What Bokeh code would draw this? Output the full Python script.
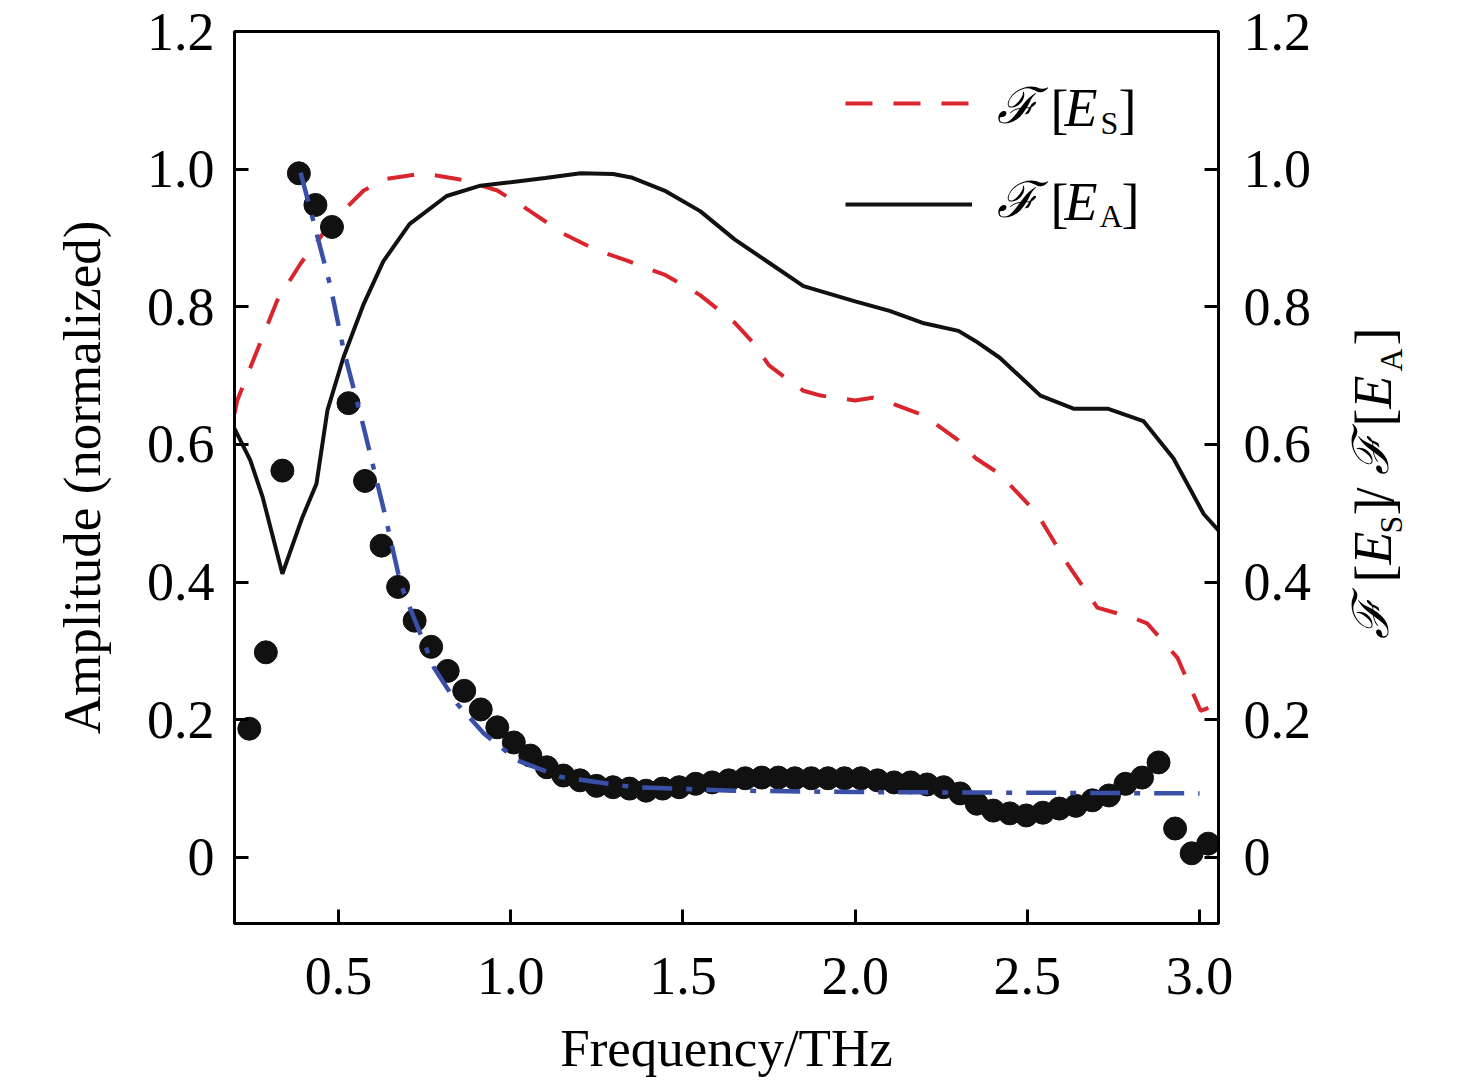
import math
from bokeh.plotting import figure
from bokeh.layouts import row
from bokeh.models import Range1d, LinearAxis, FixedTicker, Label, Legend, LegendItem
from bokeh.embed import file_html
from bokeh.resources import INLINE

# ---- data ----
es_freq = [0.198, 0.206, 0.264, 0.322, 0.390, 0.477, 0.573, 0.641, 0.748, 0.864, 0.961, 1.038,
           1.154, 1.251, 1.338, 1.45, 1.55, 1.65, 1.70, 1.75, 1.80, 1.85, 1.90, 2.00, 2.05, 2.10,
           2.20, 2.30, 2.35, 2.42, 2.529, 2.616, 2.703, 2.808, 2.848, 2.936, 3.003, 3.055]
es_amp = [0.645, 0.664, 0.737, 0.809, 0.863, 0.921, 0.969, 0.986, 0.994, 0.984, 0.969, 0.945,
          0.906, 0.882, 0.867, 0.846, 0.817, 0.777, 0.750, 0.715, 0.696, 0.678, 0.671, 0.664, 0.668, 0.661,
          0.642, 0.606, 0.580, 0.557, 0.499, 0.427, 0.363, 0.348, 0.340, 0.290, 0.213, 0.223]

ea_freq = [0.198, 0.244, 0.280, 0.337, 0.395, 0.436, 0.468, 0.514, 0.573, 0.630, 0.706, 0.814,
           0.912, 1.000, 1.100, 1.203, 1.297, 1.350, 1.450, 1.550, 1.650, 1.750, 1.850, 2.000,
           2.100, 2.200, 2.300, 2.350, 2.420, 2.538, 2.634, 2.733, 2.837, 2.924, 3.012, 3.055]
ea_amp = [0.623, 0.577, 0.523, 0.412, 0.494, 0.543, 0.650, 0.726, 0.804, 0.866, 0.920, 0.961,
          0.976, 0.981, 0.987, 0.994, 0.993, 0.988, 0.968, 0.939, 0.898, 0.864, 0.830, 0.808,
          0.794, 0.776, 0.765, 0.750, 0.726, 0.671, 0.652, 0.652, 0.634, 0.580, 0.499, 0.475]

fit_freq = [0.390, 0.477, 0.515, 0.573, 0.632, 0.680, 0.699, 0.777, 0.845, 0.922, 1.019, 1.145,
            1.357, 1.648, 2.000, 2.500, 3.000]
fit_amp = [0.995, 0.829, 0.737, 0.625, 0.504, 0.398, 0.373, 0.276, 0.223, 0.180, 0.141, 0.117,
           0.102, 0.097, 0.095, 0.094, 0.093]

ratio_freq = [0.241, 0.289, 0.337, 0.385, 0.433, 0.481, 0.529, 0.577, 0.625, 0.673, 0.721, 0.769,
              0.817, 0.865, 0.913, 0.961, 1.009, 1.057, 1.105, 1.153, 1.201, 1.249, 1.297, 1.345,
              1.393, 1.441, 1.489, 1.537, 1.585, 1.633, 1.681, 1.729, 1.777, 1.825, 1.873, 1.921,
              1.969, 2.017, 2.065, 2.113, 2.161, 2.209, 2.257, 2.305, 2.353, 2.401, 2.449, 2.497,
              2.545, 2.593, 2.641, 2.689, 2.737, 2.785, 2.833, 2.881, 2.929, 2.977, 3.025]
ratio_val = [0.187, 0.298, 0.562, 0.994, 0.948, 0.916, 0.660, 0.547, 0.453, 0.393, 0.344, 0.306,
             0.271, 0.242, 0.215, 0.189, 0.167, 0.148, 0.131, 0.119, 0.112, 0.104, 0.102, 0.100,
             0.097, 0.100, 0.102, 0.107, 0.109, 0.112, 0.115, 0.116, 0.116, 0.115, 0.115, 0.115,
             0.115, 0.115, 0.112, 0.109, 0.109, 0.106, 0.102, 0.093, 0.078, 0.068, 0.064, 0.061,
             0.065, 0.071, 0.075, 0.083, 0.090, 0.107, 0.116, 0.138, 0.042, 0.006, 0.020]

x_ticks = [0.5, 1.0, 1.5, 2.0, 2.5, 3.0]
x_tick_labels = ["0.5", "1.0", "1.5", "2.0", "2.5", "3.0"]
y_ticks = [0, 0.2, 0.4, 0.6, 0.8, 1.0, 1.2]
y_tick_labels = ["0", "0.2", "0.4", "0.6", "0.8", "1.0", "1.2"]

XR = (0.198, 3.055)
YR = (-0.096, 1.2)
W, H = 1330, 1080
BL, BT = 234, 31
FW, FH = 984, 892
BR, BB = W - BL - FW, H - BT - FH

SERIF = "Liberation Serif"
SCRIPT = "DejaVu Serif"
RED = "#d9262e"
BLUE = "#3a50a8"
BLACK = "#111111"

p = figure(width=W, height=H, x_range=Range1d(*XR), y_range=Range1d(*YR),
           output_backend="svg", toolbar_location=None,
           min_border_left=BL, min_border_right=BR, min_border_top=BT, min_border_bottom=BB)
p.grid.visible = False
p.outline_line_color = "black"
p.outline_line_width = 3

r_es = p.line(es_freq, es_amp, line_color=RED, line_width=4, line_dash="27 21")
r_ea = p.line(ea_freq, ea_amp, line_color=BLACK, line_width=4)
p.scatter(ratio_freq, ratio_val, size=23, marker="circle", fill_color=BLACK, line_color=BLACK)
p.line(fit_freq, fit_amp, line_color=BLUE, line_width=4.5, line_dash="30 14 6 14")

right = LinearAxis()
p.add_layout(right, "right")

for ax in [p.xaxis[0], p.yaxis[0], right]:
    ax.axis_line_width = 3
    ax.axis_line_color = "black"
    ax.major_tick_line_width = 3
    ax.major_tick_line_color = "black"
    ax.major_tick_in = 14
    ax.major_tick_out = 0
    ax.minor_tick_in = 0
    ax.minor_tick_out = 0
    ax.major_label_text_font = SERIF
    ax.major_label_text_font_size = "54px"
    ax.major_label_text_color = "black"
    ax.axis_label_text_font = SERIF
    ax.axis_label_text_font_size = "53px"
    ax.axis_label_text_font_style = "normal"
    ax.axis_label_text_color = "black"

p.xaxis[0].ticker = FixedTicker(ticks=x_ticks)
p.xaxis[0].major_label_overrides = {t: l for t, l in zip(x_ticks, x_tick_labels)}
p.xaxis[0].major_label_standoff = 34
p.xaxis[0].axis_label = "Frequency/THz"
p.xaxis[0].axis_label_standoff = 22

for ax in [p.yaxis[0], right]:
    ax.ticker = FixedTicker(ticks=y_ticks)
    ax.major_label_overrides = {t: l for t, l in zip(y_ticks, y_tick_labels)}
p.yaxis[0].major_label_standoff = 20
p.yaxis[0].axis_label = "Amplitude (normalized)"
p.yaxis[0].axis_label_standoff = 33
right.major_label_standoff = 25

# legend (line samples; the formatted text is built from labels below)
legend = Legend(items=[LegendItem(label=" ", renderers=[r_es]),
                       LegendItem(label=" ", renderers=[r_ea])],
                location=(611, 709), glyph_width=127, glyph_height=20, label_height=20,
                label_width=1, label_standoff=0, spacing=81, padding=0, margin=0,
                border_line_alpha=0, background_fill_alpha=0, label_text_font_size="8px")
p.add_layout(legend)


def fx(px):  # page x -> data x
    return XR[0] + (px - BL) * (XR[1] - XR[0]) / FW


def fy(py):  # page y -> data y
    return YR[1] - (py - BT) * (YR[1] - YR[0]) / FH


def label(fig, text, x, y, size, font=SERIF, style="normal", angle=0.0):
    fig.add_layout(Label(x=x, y=y, text=text, text_font=font, text_font_style=style,
                         text_font_size=f"{size}px", text_color="black", angle=angle,
                         text_align="left", text_baseline="middle"))


# legend text: F[E_S], F[E_A]   (anchors are vertical centres of the glyphs)
for mid, sub, sub_mid, sub_x, close_x in [(107, "S", 122, 1100, 1118),
                                          (201, "A", 215, 1099, 1121)]:
    label(p, "\u2131", fx(996), fy(mid - 2), 50, font=SCRIPT, style="italic")
    label(p, "[", fx(1050), fy(mid + 2), 54)
    label(p, "E", fx(1064), fy(mid), 54, style="italic")
    label(p, sub, fx(sub_x), fy(sub_mid), 32)
    label(p, "]", fx(close_x), fy(mid + 2), 54)

# right-hand title F[E_S]/F[E_A] in a narrow side panel (page pixel coordinates)
X0, W2 = W, 120
p2 = figure(width=W2, height=H, x_range=Range1d(X0, X0 + W2), y_range=Range1d(BT + FH, BT),
            output_backend="svg", toolbar_location=None,
            min_border_left=0, min_border_right=0, min_border_top=BT, min_border_bottom=BB,
            x_axis_type=None, y_axis_type=None)
p2.grid.visible = False
p2.outline_line_color = None

A90 = math.pi / 2
mx, sx = 1372, 1390
for text, start, kind in [("\u2131", 638, "script"), ("[", 582, "n"), ("E", 564, "i"),
                          ("S", 533, "s"), ("]", 515, "n"), ("/", 502, "n"),
                          ("\u2131", 474, "script"), ("[", 426, "n"), ("E", 408, "i"),
                          ("A", 371, "s"), ("]", 345, "n")]:
    if kind == "script":
        label(p2, text, mx - 2, start, 50, font=SCRIPT, style="italic", angle=A90)
    elif kind == "i":
        label(p2, text, mx, start, 54, style="italic", angle=A90)
    elif kind == "s":
        label(p2, text, sx, start, 32, angle=A90)
    else:
        label(p2, text, mx + 2, start, 54, angle=A90)

layout = row(p, p2, spacing=0)
open("out.html", "w").write(file_html(layout, INLINE))
